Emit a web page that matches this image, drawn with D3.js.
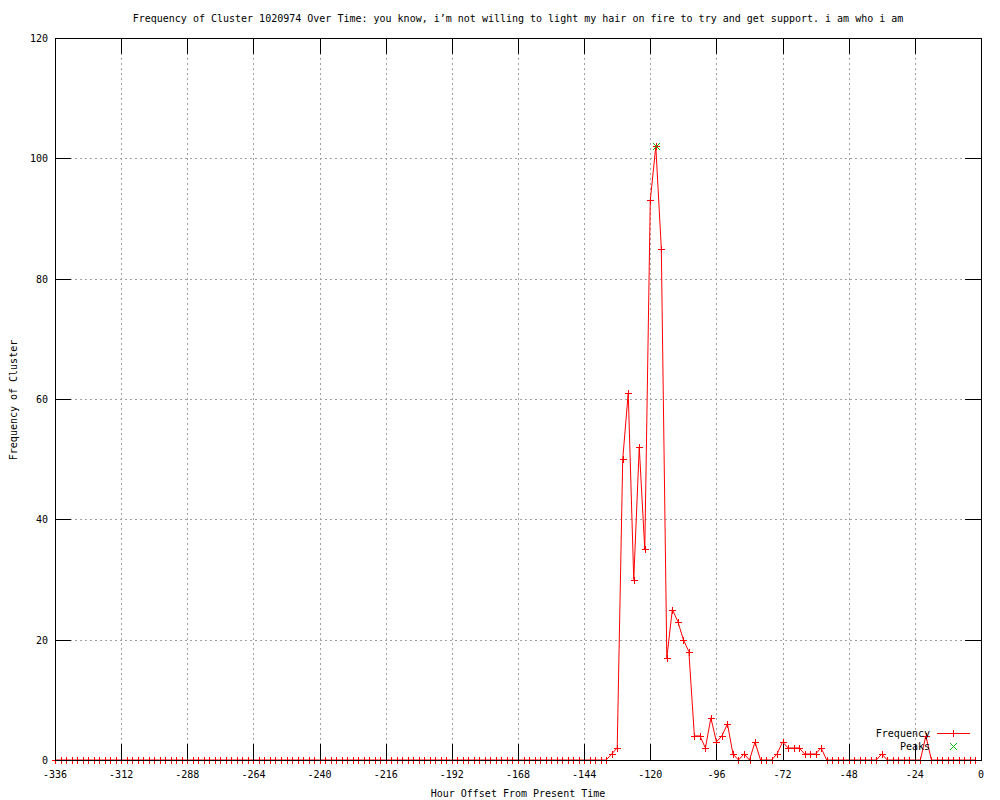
<!DOCTYPE html>
<html>
<head>
<meta charset="utf-8">
<script src="https://cdn.jsdelivr.net/npm/d3@7"></script>
<style>
  body { margin: 0; background: #fff; }
  text { font-family: "DejaVu Sans Mono", monospace; font-size: 10px; fill: #000; }
</style>
</head>
<body>
<svg id="chart"></svg>
<script>
let w = 1000;
let h = 800;
let padL = 55, padR = 981, padT = 38, padB = 760;

let title = "Frequency of Cluster 1020974 Over Time: you know, i\u2019m not willing to light my hair on fire to try and get support. i am who i am";
let xLabel = "Hour Offset From Present Time";
let yLabel = "Frequency of Cluster";

let xTicks = [-336, -312, -288, -264, -240, -216, -192, -168, -144, -120, -96, -72, -48, -24, 0];
let yTicks = [0, 20, 40, 60, 80, 100, 120];

// hour offsets, one sample every 2 hours from -336 to -2
let hours = d3.range(-336, 0, 2);
// cluster frequency per sample (same order as hours)
let counts = [
  0, 0, 0, 0, 0, 0, 0, 0, 0, 0, 0, 0, 0, 0, 0, 0, 0, 0, 0, 0,
  0, 0, 0, 0, 0, 0, 0, 0, 0, 0, 0, 0, 0, 0, 0, 0, 0, 0, 0, 0,
  0, 0, 0, 0, 0, 0, 0, 0, 0, 0, 0, 0, 0, 0, 0, 0, 0, 0, 0, 0,
  0, 0, 0, 0, 0, 0, 0, 0, 0, 0, 0, 0, 0, 0, 0, 0, 0, 0, 0, 0,
  0, 0, 0, 0, 0, 0, 0, 0, 0, 0, 0, 0, 0, 0, 0, 0, 0, 0, 0, 0,
  0, 1, 2, 50, 61, 30, 52, 35, 93, 102, 85, 17, 25, 23, 20, 18, 4, 4, 2, 7,
  3, 4, 6, 1, 0, 1, 0, 3, 0, 0, 0, 1, 3, 2, 2, 2, 1, 1, 1, 2,
  0, 0, 0, 0, 0, 0, 0, 0, 0, 0, 1, 0, 0, 0, 0, 0, 0, 0, 4, 0,
  0, 0, 0, 0, 0, 0, 0, 0
];
let peakHours = [-118];
let peakCounts = [102];

let values = hours.map((d, i) => ({ hour: d, count: counts[i] }));
let peaks = peakHours.map((d, i) => ({ hour: d, count: peakCounts[i] }));

let svg = d3.select("#chart").attr("width", w).attr("height", h);

let xScale = d3.scaleLinear().domain([-336, 0]).range([padL, padR]);
let yScale = d3.scaleLinear().domain([0, 120]).range([padB, padT]);

let px = (v) => Math.round(v) + 0.5;

// grid
let grid = svg.append("g").attr("stroke", "#a0a0a0").attr("stroke-dasharray", "2,3").attr("shape-rendering", "crispEdges");
grid.selectAll(".gx").data(xTicks.slice(1, -1)).enter().append("line")
    .attr("x1", (d) => px(xScale(d))).attr("x2", (d) => px(xScale(d)))
    .attr("y1", padT).attr("y2", padB);
grid.selectAll(".gy").data(yTicks.slice(1, -1)).enter().append("line")
    .attr("y1", (d) => px(yScale(d))).attr("y2", (d) => px(yScale(d)))
    .attr("x1", padL).attr("x2", padR);

// data line
let line = d3.line().x((d) => xScale(d.hour)).y((d) => yScale(d.count));
svg.append("path").datum(values)
   .attr("fill", "none").attr("stroke", "#ff0000").attr("stroke-width", 1)
   .attr("d", line);

let plus = "M-3.5,0H3.5M0,-3.5V3.5";
let cross = "M-3.5,-3.5L3.5,3.5M-3.5,3.5L3.5,-3.5";

svg.selectAll(".pt").data(values).enter().append("path")
   .attr("class", "pt")
   .attr("transform", (d) => `translate(${px(xScale(d.hour))},${px(yScale(d.count))})`)
   .attr("d", plus).attr("stroke", "#ff0000").attr("fill", "none").attr("shape-rendering", "crispEdges");

svg.selectAll(".pk").data(peaks).enter().append("path")
   .attr("class", "pk")
   .attr("transform", (d) => `translate(${px(xScale(d.hour))},${px(yScale(d.count))})`)
   .attr("d", cross).attr("stroke", "#00c000").attr("fill", "none");

// frame and ticks
let axes = svg.append("g").attr("stroke", "#000").attr("shape-rendering", "crispEdges");
axes.append("rect").attr("x", padL + 0.5).attr("y", padT + 0.5)
    .attr("width", padR - padL).attr("height", padB - padT).attr("fill", "none");
let tl = 16;
xTicks.forEach((t) => {
  let x = px(xScale(t));
  axes.append("line").attr("x1", x).attr("x2", x).attr("y1", padB).attr("y2", padB - tl);
  axes.append("line").attr("x1", x).attr("x2", x).attr("y1", padT).attr("y2", padT + tl);
});
yTicks.forEach((t) => {
  let y = px(yScale(t));
  axes.append("line").attr("y1", y).attr("y2", y).attr("x1", padL).attr("x2", padL + tl);
  axes.append("line").attr("y1", y).attr("y2", y).attr("x1", padR).attr("x2", padR - tl);
});

// tick labels
svg.selectAll(".xl").data(xTicks).enter().append("text")
   .attr("x", (d) => xScale(d)).attr("y", 778).attr("text-anchor", "middle").text((d) => d);
svg.selectAll(".yl").data(yTicks).enter().append("text")
   .attr("x", 48).attr("y", (d) => yScale(d) + 4).attr("text-anchor", "end").text((d) => d);

// titles
svg.append("text").attr("x", 518).attr("y", 22).attr("text-anchor", "middle").text(title);
svg.append("text").attr("x", 518).attr("y", 797).attr("text-anchor", "middle").text(xLabel);
svg.append("text").attr("transform", "translate(17,400) rotate(-90)").attr("text-anchor", "middle").text(yLabel);

// legend
let lg = svg.append("g");
lg.append("text").attr("x", 930).attr("y", 737).attr("text-anchor", "end").text("Frequency");
lg.append("line").attr("x1", 937).attr("x2", 970).attr("y1", 733.5).attr("y2", 733.5)
  .attr("stroke", "#ff0000").attr("shape-rendering", "crispEdges");
lg.append("path").attr("transform", "translate(953.5,733.5)").attr("d", plus)
  .attr("stroke", "#ff0000").attr("fill", "none").attr("shape-rendering", "crispEdges");
lg.append("text").attr("x", 930).attr("y", 750).attr("text-anchor", "end").text("Peaks");
lg.append("path").attr("transform", "translate(953.5,746.5)").attr("d", cross)
  .attr("stroke", "#00c000").attr("fill", "none");
</script>
</body>
</html>
